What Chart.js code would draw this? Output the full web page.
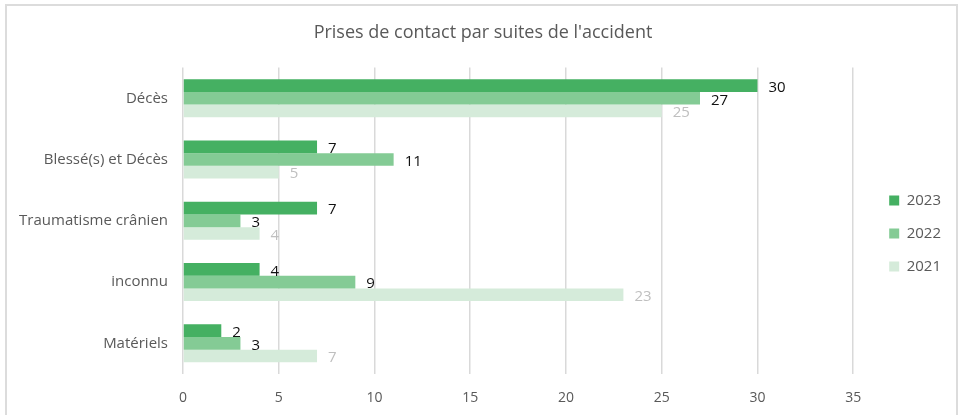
<!DOCTYPE html>
<html>
<head>
<meta charset="utf-8">
<script src="https://cdn.jsdelivr.net/npm/chart.js@4"></script>
<style>
    html, body { margin: 0; padding: 0; background: #fff; }
    #wrap { position: relative; width: 958px; height: 415px; overflow: hidden; }
    #frame { position: absolute; left: 5px; top: 4px; width: 949px; height: 440px; border: 2px solid #dcdcdc; }
    canvas { position: absolute; left: 0; top: 0; }
</style>
</head>
<body>
<div id="wrap">
    <div id="frame"></div>
    <canvas id="chart" width="958" height="415"></canvas>
</div>
<script>
// Data
const categories = ['Décès', 'Blessé(s) et Décès', 'Traumatisme crânien', 'inconnu', 'Matériels'];
const values2023 = [30, 7, 7, 4, 2];
const values2022 = [27, 11, 3, 9, 3];
const values2021 = [25, 5, 4, 23, 7];
const seriesNames = ['2023', '2022', '2021'];
const xMax = 35;
const xStep = 5;

const FONT = "'Open Sans', 'Liberation Sans', sans-serif";

// Value labels at the end of each bar (no datalabels plugin here)
const barLabels = {
    id: 'barLabels',
    afterDatasetsDraw(chart) {
        const ctx = chart.ctx;
        ctx.save();
        ctx.font = '15px ' + FONT;
        ctx.textBaseline = 'middle';
        ctx.textAlign = 'left';
        chart.data.datasets.forEach((ds, i) => {
            const meta = chart.getDatasetMeta(i);
            meta.data.forEach((bar, j) => {
                ctx.fillStyle = ds.labelColor;
                ctx.fillText(ds.data[j], bar.x + 11, bar.y + 2);
            });
        });
        ctx.restore();
    }
};

// Leave more room for the legend and nudge it like in the original
const legendPlace = {
    id: 'legendPlace',
    afterInit(chart) {
        const legend = chart.legend;
        const fit = legend.fit;
        legend.fit = function () {
            fit.call(this);
            this.width += 25;
        };
    },
    afterLayout(chart) {
        const legend = chart.legend;
        legend.left += 18;
        legend.right += 18;
        legend.top += 21;
        legend.bottom += 21;
    }
};

new Chart(document.getElementById('chart'), {
    type: 'bar',
    data: {
        labels: categories,
        datasets: [
            { label: seriesNames[0], data: values2023, backgroundColor: '#45b062', labelColor: '#111111' },
            { label: seriesNames[1], data: values2022, backgroundColor: '#84cb95', labelColor: '#111111' },
            { label: seriesNames[2], data: values2021, backgroundColor: '#d5ebda', labelColor: '#bfbfbf' }
        ]
    },
    options: {
        indexAxis: 'y',
        responsive: false,
        animation: false,
        categoryPercentage: 0.62,
        barPercentage: 1,
        layout: { padding: { left: 8, right: 0, top: 10, bottom: 0 } },
        scales: {
            x: {
                min: 0,
                max: xMax,
                ticks: { stepSize: xStep, color: '#595959', font: { family: FONT, size: 14 }, padding: 16 },
                grid: { color: '#d9d9d9', lineWidth: 1.5, drawTicks: false },
                border: { display: false },
                afterFit(scale) { scale.height = 41; }
            },
            y: {
                ticks: { color: '#595959', font: { family: FONT, size: 15 }, padding: 7 },
                grid: { display: false },
                border: { display: false },
                afterFit(scale) { scale.width = 175; }
            }
        },
        plugins: {
            title: {
                display: true,
                text: "Prises de contact par suites de l'accident",
                color: '#595959',
                font: { family: FONT, size: 18, weight: 'normal' },
                padding: { top: 12, bottom: 24 }
            },
            legend: {
                position: 'right',
                labels: {
                    color: '#595959',
                    font: { family: FONT, size: 15 },
                    boxWidth: 10,
                    boxHeight: 10,
                    padding: 18
                }
            },
            tooltip: { enabled: false }
        }
    },
    plugins: [barLabels, legendPlace]
});
</script>
</body>
</html>
